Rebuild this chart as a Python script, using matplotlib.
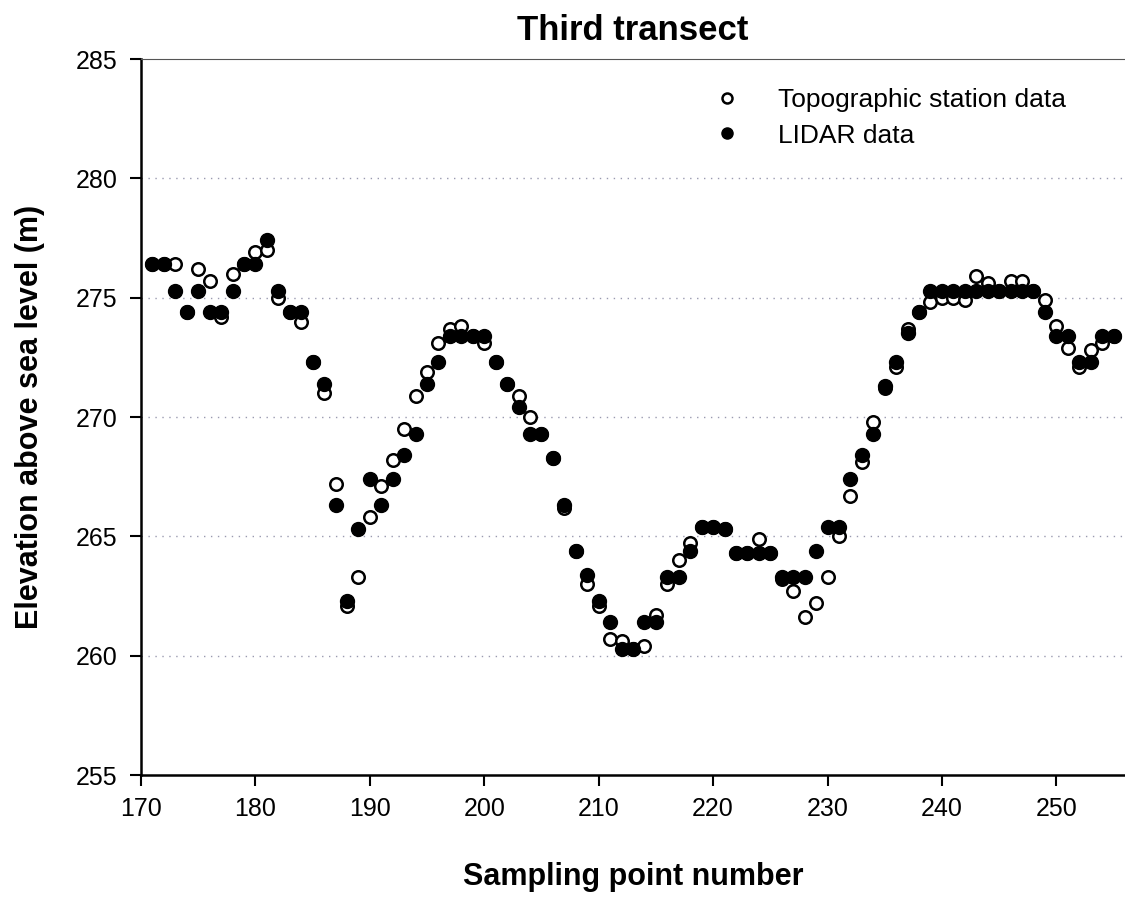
import matplotlib
matplotlib.use("Agg")
from matplotlib import pyplot as plt

plt.rcParams['font.family'] = ['Liberation Sans', 'DejaVu Sans']

# sampling points 171..255
pontos = list(range(171, 256))

topo = [276.4, 276.4, 276.4, 274.4, 276.2, 275.7, 274.2, 276.0, 276.4, 276.9,
        277.0, 275.0, 274.4, 274.0, 272.3, 271.0, 267.2, 262.1, 263.3, 265.8,
        267.1, 268.2, 269.5, 270.9, 271.9, 273.1, 273.7, 273.8, 273.4, 273.1,
        272.3, 271.4, 270.9, 270.0, 269.3, 268.3, 266.2, 264.4, 263.0, 262.1,
        260.7, 260.6, 260.3, 260.4, 261.7, 263.0, 264.0, 264.7, 265.4, 265.4,
        265.3, 264.3, 264.3, 264.9, 264.3, 263.2, 262.7, 261.6, 262.2, 263.3,
        265.0, 266.7, 268.1, 269.8, 271.2, 272.1, 273.7, 274.4, 274.8, 275.0,
        275.0, 274.9, 275.9, 275.6, 275.3, 275.7, 275.7, 275.3, 274.9, 273.8,
        272.9, 272.1, 272.8, 273.1, 273.4]

lidar = [276.4, 276.4, 275.3, 274.4, 275.3, 274.4, 274.4, 275.3, 276.4, 276.4,
         277.4, 275.3, 274.4, 274.4, 272.3, 271.4, 266.3, 262.3, 265.3, 267.4,
         266.3, 267.4, 268.4, 269.3, 271.4, 272.3, 273.4, 273.4, 273.4, 273.4,
         272.3, 271.4, 270.4, 269.3, 269.3, 268.3, 266.3, 264.4, 263.4, 262.3,
         261.4, 260.3, 260.3, 261.4, 261.4, 263.3, 263.3, 264.4, 265.4, 265.4,
         265.3, 264.3, 264.3, 264.3, 264.3, 263.3, 263.3, 263.3, 264.4, 265.4,
         265.4, 267.4, 268.4, 269.3, 271.3, 272.3, 273.5, 274.4, 275.3, 275.3,
         275.3, 275.3, 275.3, 275.3, 275.3, 275.3, 275.3, 275.3, 274.4, 273.4,
         273.4, 272.3, 272.3, 273.4, 273.4]

fig = plt.figure(figsize=(11.25, 8.97), dpi=100)
ax = fig.add_axes([141 / 1125, (897 - 775) / 897, (1125 - 141) / 1125, (775 - 59) / 897])

ax.plot(pontos, topo, 'o', ms=9, mfc='white', mec='black', mew=1.8,
        label='Topographic station data', zorder=3)
ax.plot(pontos, lidar, 'o', ms=10, mfc='black', mec='black',
        label='LIDAR data', zorder=4)

ax.set_xlim(170, 256)
ax.set_ylim(255, 285)
ax.set_xticks(range(170, 251, 10))
ax.set_yticks(range(255, 286, 5))

for g in range(260, 281, 5):
    ax.axhline(g, color='#9a9ab0', lw=1, ls=(0, (1, 4)), zorder=1)

ax.spines['right'].set_visible(False)
ax.spines['top'].set_color('#555555')
ax.spines['left'].set_linewidth(1.8)
ax.spines['bottom'].set_linewidth(1.8)
ax.tick_params(direction='out', length=8, width=1.5, labelsize=18)
ax.tick_params(axis='y', pad=9)
ax.tick_params(axis='x', pad=8)

ax.set_title('Third transect', fontsize=25, fontweight='bold', pad=14)
ax.set_xlabel('Sampling point number', fontsize=22, fontweight='bold', labelpad=29)
ax.set_ylabel('Elevation above sea level (m)', fontsize=22, fontweight='bold', labelpad=22)

ax.legend(loc='upper left', bbox_to_anchor=(0.545, 0.993), frameon=False,
          fontsize=19, markerscale=0.8, handletextpad=0.9, labelspacing=0.45)

fig.savefig('out.png', dpi=100)
